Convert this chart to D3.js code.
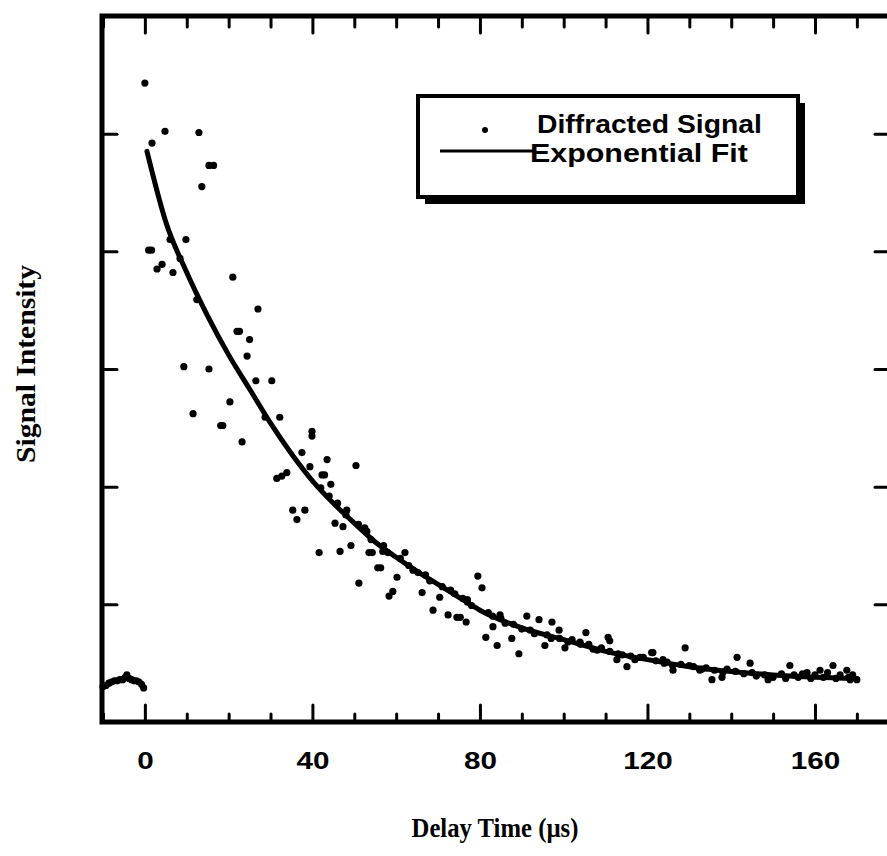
<!DOCTYPE html>
<html>
<head>
<meta charset="utf-8">
<script src="https://cdn.jsdelivr.net/npm/d3@7"></script>
<style>
body{margin:0;background:#fff;}
.ax path{display:none;}
.ax line{stroke:#000;stroke-width:3;stroke-linecap:round;}
.ax text{font-family:"Liberation Sans",Arial,sans-serif;font-weight:bold;font-size:22px;fill:#000;}
</style>
</head>
<body>
<div id="chart"></div>
<script>

var sigT = [-10,-9.3,-8.6,-8,-7.3,-6.6,-6,-5.3,-4.7,-4.3,-3.8,-3.2,-2.6,-2,-1.4,-0.8,-0.3,
  0,4.8,1.7,12.9,15.3,16.4,13.6,6,9.8,0.9,1.6,4.1,2.9,6.7,8.4,21,12.4,27,22,22.6,25,24.4,9.3,15.3,
  26.5,30.3,20.3,11.5,18.1,18.6,28.7,32.2,39.9,39.9,23.2,37.5,43.5,39.4,42.3,42.9,33.9,32.7,31.5,
  50.4,44.4,35.3,38.2,36.3,48.2,45.4,47.3,52.5,41.6,46.6,49.2,53.5,54.3,56.8,62.1,55.6,56.3,60.2,
  65.2,51.1,59.2,58.3,66.2,70.4,75.9,77,79.5,80.5,68.8,72.4,74.5,75.3,76.7,83.1,81.4,
  84.8,84.1,89.3,91.2,94.1,97.2,98.9,87.6,95.5,100.3,105.3,110.6,111,103.9,108,115.1,112.7,121,
  118.2,124.7,129,141.4,121.3,123.7,126.1,135.4,137.8,144.5,148.8,154,158.1,161.2,164.3,167.6,
  168.4,132.5,130,
  42,44,46,48,51,53,54,57,58,61,63,64,67,68,71,73,74,77,78,82,83,85,86,88,90,92,93,96,97,99,
  101,102,104,106,107,109,111,113,114,116,117,119,122,124,126,128,131,133,134,136,138,139,141,
  143,145,146,148,150,152,153,155,156,157,159,160,162,163,165,166,168,169,170]
var sigV = [0.30,0.31,0.33,0.34,0.35,0.35,0.36,0.36,0.38,0.40,0.37,0.36,0.35,0.35,0.34,0.32,0.29,
  5.43,5.02,4.92,5.01,4.73,4.73,4.55,4.10,4.10,4.01,4.01,3.89,3.85,3.82,3.94,3.78,3.59,3.51,3.32,3.32,3.25,3.11,3.02,3.00,
  2.90,2.90,2.72,2.62,2.52,2.52,2.59,2.59,2.47,2.43,2.38,2.29,2.23,2.17,2.10,2.10,2.12,2.09,2.07,
  2.18,2.02,1.80,1.80,1.72,1.80,1.69,1.66,1.65,1.44,1.45,1.50,1.44,1.44,1.45,1.44,1.31,1.31,1.23,
  1.27,1.18,1.11,1.07,1.10,1.06,1.05,1.04,1.24,1.14,0.95,0.91,0.89,0.89,0.85,0.81,0.72,
  0.91,0.65,0.58,0.90,0.87,0.85,0.78,0.71,0.65,0.63,0.76,0.72,0.69,0.68,0.61,0.47,0.53,0.59,
  0.55,0.51,0.63,0.55,0.59,0.53,0.44,0.36,0.38,0.50,0.36,0.48,0.42,0.44,0.48,0.44,
  0.36,0.44,0.48,
  1.99,1.92,1.86,1.76,1.68,1.62,1.55,1.50,1.44,1.39,1.33,1.29,1.25,1.20,1.15,1.12,1.09,1.02,0.99,0.93,0.90,0.88,0.84,0.83,0.79,0.78,0.75,0.74,0.71,0.71,
  0.68,0.70,0.66,0.66,0.62,0.63,0.60,0.58,0.57,0.56,0.53,0.55,0.52,0.50,0.48,0.49,0.47,0.45,0.46,0.44,0.42,0.45,0.43,
  0.41,0.42,0.39,0.40,0.38,0.41,0.37,0.40,0.38,0.41,0.37,0.40,0.38,0.42,0.37,0.40,0.38,0.40,0.36]

// exponential fit curve
var fitT = [0.5,5,10,15,20,25,30,35,40,45,50,55,60,65,70,75,80,90,100,110,120,130,140,150,160,170]
var fitV = [4.85,4.25,3.82,3.45,3.12,2.83,2.54,2.28,2.05,1.86,1.69,1.53,1.40,1.28,1.17,1.06,0.95,0.80,0.70,0.60,0.53,0.47,0.43,0.40,0.38,0.37]

var xMajor = [0,40,80,120,160]
var xMinor = [-10,10,20,30,50,60,70,90,100,110,130,140,150,170]
var yTicks = [1,2,3,4,5]

var legendNames = ["Diffracted Signal","Exponential Fit"]

var w = 887, h = 856

var svg = d3.select("#chart").append("svg")
  .attr("width", w)
  .attr("height", h)

var x = d3.scaleLinear().domain([-10,180]).range([103,898.75])
var y = d3.scaleLinear().domain([0,6]).range([722,16])

// squeeze/stretch a text horizontally to the width it has in the scan
function widen(sel, target)
{
  sel.each(function(d,i){
    var t = d3.select(this)
    var nat = this.getComputedTextLength()
    var tw = typeof target == "function" ? target(d,i) : target
    var px = +t.attr("x") || 0, py = +t.attr("y") || 0
    if(!nat) return
    t.attr("x",0).attr("y",0)
     .attr("transform","translate("+px+","+py+") scale("+(tw/nat)+",1)")
  })
}

// ticks (all pointing inward)
svg.append("g").attr("class","ax")
  .attr("transform","translate(0,722)")
  .call(d3.axisBottom(x).tickValues(xMajor).tickSize(-17).tickPadding(30).tickFormat(d3.format("d")))
  .selectAll("text")
  .style("font-size","24px")
  .call(widen, function(d){ return String(d).length*16.5 })

svg.append("g").attr("class","ax")
  .attr("transform","translate(0,722)")
  .call(d3.axisBottom(x).tickValues(xMinor).tickSize(-8).tickFormat(""))

svg.append("g").attr("class","ax")
  .attr("transform","translate(0,16)")
  .call(d3.axisTop(x).tickValues(xMajor).tickSize(-17).tickFormat(""))
svg.append("g").attr("class","ax")
  .attr("transform","translate(0,16)")
  .call(d3.axisTop(x).tickValues(xMinor).tickSize(-11).tickFormat(""))

svg.append("g").attr("class","ax")
  .attr("transform","translate(102,0)")
  .call(d3.axisLeft(y).tickValues(yTicks).tickSize(-15).tickFormat(""))
svg.append("g").attr("class","ax")
  .attr("transform","translate(899,0)")
  .call(d3.axisRight(y).tickValues(yTicks).tickSize(-24).tickFormat(""))

// frame
svg.append("rect")
  .attr("x",x(-10)-1).attr("y",y(6))
  .attr("width",x(180)-x(-10)+1).attr("height",y(0)-y(6))
  .attr("fill","none").attr("stroke","#000").attr("stroke-width",5)

// data points
var pts = sigT.map(function(t,i){ return {t:t, v:sigV[i]} })
svg.append("g").selectAll("circle")
  .data(pts)
  .enter().append("circle")
  .attr("cx",function(d){ return x(d.t) })
  .attr("cy",function(d){ return y(d.v) })
  .attr("r",3.6)
  .attr("fill","#000")

// fit
var fit = fitT.map(function(t,i){ return [t, fitV[i]] })
var line = d3.line()
  .x(function(d){ return x(d[0]) })
  .y(function(d){ return y(d[1]) })
  .curve(d3.curveMonotoneX)
svg.append("path")
  .datum(fit)
  .attr("d",line)
  .attr("fill","none")
  .attr("stroke","#000")
  .attr("stroke-width",5)
  .attr("stroke-linecap","round")

// legend
var lg = svg.append("g")
lg.append("rect").attr("x",425).attr("y",103).attr("width",380).attr("height",101).attr("fill","#000")
lg.append("rect").attr("x",418).attr("y",96).attr("width",380).attr("height",101)
  .attr("fill","#fff").attr("stroke","#000").attr("stroke-width",4)
lg.append("circle").attr("cx",485).attr("cy",130).attr("r",3).attr("fill","#000")
lg.append("line").attr("x1",440).attr("x2",533).attr("y1",151).attr("y2",151)
  .attr("stroke","#000").attr("stroke-width",3)
lg.selectAll("text")
  .data(legendNames)
  .enter().append("text")
  .attr("x",function(d,i){ return i==0 ? 537 : 530 })
  .attr("y",function(d,i){ return 133 + i*29 })
  .style("font-family","'Liberation Sans',Arial,sans-serif")
  .style("font-size","25px")
  .style("font-weight","bold")
  .text(function(d){ return d })
  .call(widen, function(d,i){ return i==0 ? 225 : 218 })

// axis titles
svg.append("text")
  .attr("x",495).attr("y",837)
  .attr("text-anchor","middle")
  .style("font-family","'Liberation Serif','Times New Roman',serif")
  .style("font-size","27px").style("font-weight","bold")
  .text("Delay Time (\u00b5s)")
  .call(widen, 167)

svg.append("text")
  .attr("transform","translate(35,364) rotate(-90)")
  .attr("text-anchor","middle")
  .attr("textLength",198).attr("lengthAdjust","spacingAndGlyphs")
  .style("font-family","'Liberation Serif','Times New Roman',serif")
  .style("font-size","28px").style("font-weight","bold")
  .text("Signal Intensity")

</script>
</body>
</html>
